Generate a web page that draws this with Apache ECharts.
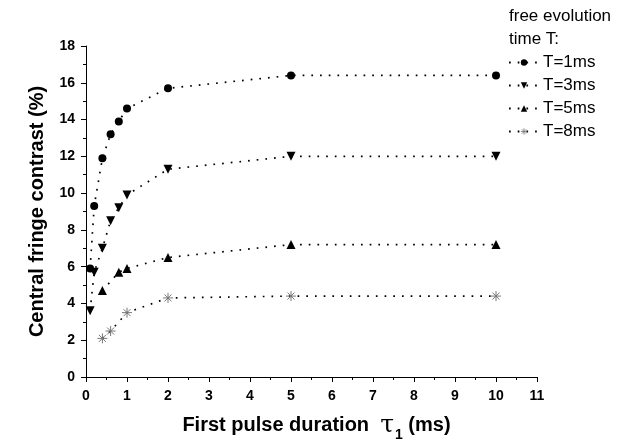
<!DOCTYPE html>
<html>
<head>
<meta charset="utf-8">
<script src="https://cdn.jsdelivr.net/npm/echarts@6/dist/echarts.min.js"></script>
<style>
  html, body { margin: 0; padding: 0; background: #fff; }
  #main { width: 626px; height: 442px; }
</style>
</head>
<body>
<div id="main"></div>
<script>
// data: [pulse duration (ms), contrast (%)]
var t1ms = [[0.1, 5.9], [0.2, 9.3], [0.4, 11.9], [0.6, 13.2], [0.8, 13.9], [1, 14.6], [2, 15.7], [5, 16.4], [10, 16.4]];
var t3ms = [[0.1, 3.6], [0.2, 5.7], [0.4, 7.0], [0.6, 8.5], [0.8, 9.2], [1, 9.9], [2, 11.3], [5, 12.0], [10, 12.0]];
var t5ms = [[0.4, 4.7], [0.8, 5.7], [1, 5.9], [2, 6.5], [5, 7.2], [10, 7.2]];
var t8ms = [[0.4, 2.1], [0.6, 2.5], [1, 3.5], [2, 4.3], [5, 4.4], [10, 4.4]];
var seriesNames = ['T=1ms', 'T=3ms', 'T=5ms', 'T=8ms'];

var FONT = 'Liberation Sans, Arial, sans-serif';
var starPath = 'path://M0,5L10,5M5,0L5,10M1.5,1.5L8.5,8.5M8.5,1.5L1.5,8.5';

function mkSeries(name, data, symbol, size, rotate, style) {
    return {
        name: name,
        type: 'line',
        data: data,
        symbol: symbol,
        symbolSize: size,
        symbolRotate: rotate,
        showAllSymbol: true,
        lineStyle: { color: '#000', width: 1.7, type: [1.7, 7] },
        itemStyle: style,
        z: 3
    };
}

var chart = echarts.init(document.getElementById('main'));
chart.setOption({
    animation: false,
    backgroundColor: '#fff',
    title: {
        text: 'free evolution\ntime T:',
        left: 504,
        top: 0,
        textStyle: { fontFamily: FONT, fontSize: 17, fontWeight: 'normal', color: '#000', lineHeight: 23 }
    },
    legend: {
        data: [
            seriesNames[0], seriesNames[1], seriesNames[2],
            { name: seriesNames[3], itemStyle: { borderWidth: 0.8 } }
        ],
        orient: 'vertical',
        left: 503,
        top: 49,
        itemWidth: 30,
        itemHeight: 8,
        itemGap: 6,
        textStyle: { fontFamily: FONT, fontSize: 17, color: '#000', padding: [0, 0, 0, -1] }
    },
    grid: { left: 86, right: 89, top: 46, bottom: 65, outerBoundsMode: 'none' },
    xAxis: {
        type: 'value',
        min: 0, max: 11, interval: 1,
        name: '{a|First pulse duration  }{t|τ}{s|1}{a| (ms)}',
        nameLocation: 'middle',
        nameGap: 31,
        nameTextStyle: {
            padding: [0, 0, 0, 10],
            rich: {
                a: { fontFamily: FONT, fontSize: 20, fontWeight: 'bold', color: '#000' },
                t: { fontFamily: 'DejaVu Serif, serif', fontSize: 25, color: '#000' },
                s: { fontFamily: FONT, fontSize: 14, fontWeight: 'bold', color: '#000', padding: [20, 0, 0, 1] }
            }
        },
        axisLine: { lineStyle: { color: '#000', width: 1 } },
        axisTick: { inside: false, length: 5, lineStyle: { color: '#000' } },
        minorTick: { show: true, splitNumber: 2, length: 3, lineStyle: { color: '#000' } },
        axisLabel: { fontFamily: FONT, fontSize: 14, fontWeight: 'bold', color: '#000', margin: 12 },
        splitLine: { show: false }
    },
    yAxis: {
        type: 'value',
        min: 0, max: 18, interval: 2,
        name: 'Central fringe contrast (%)',
        nameLocation: 'middle',
        nameGap: 39,
        nameTextStyle: { fontFamily: FONT, fontSize: 20, fontWeight: 'bold', color: '#000' },
        axisLine: { show: true, lineStyle: { color: '#000', width: 1 } },
        axisTick: { show: true, inside: false, length: 5, lineStyle: { color: '#000' } },
        minorTick: { show: true, splitNumber: 2, length: 3, lineStyle: { color: '#000' } },
        axisLabel: { fontFamily: FONT, fontSize: 14, fontWeight: 'bold', color: '#000', margin: 11 },
        splitLine: { show: false }
    },
    series: [
        mkSeries(seriesNames[0], t1ms, 'circle', 8, 0, { color: '#000' }),
        mkSeries(seriesNames[1], t3ms, 'triangle', 9, 180, { color: '#000' }),
        mkSeries(seriesNames[2], t5ms, 'triangle', 9, 0, { color: '#000' }),
        mkSeries(seriesNames[3], t8ms, starPath, 10, 0, { color: 'none', borderColor: '#777', borderWidth: 1 })
    ]
});
</script>
</body>
</html>
